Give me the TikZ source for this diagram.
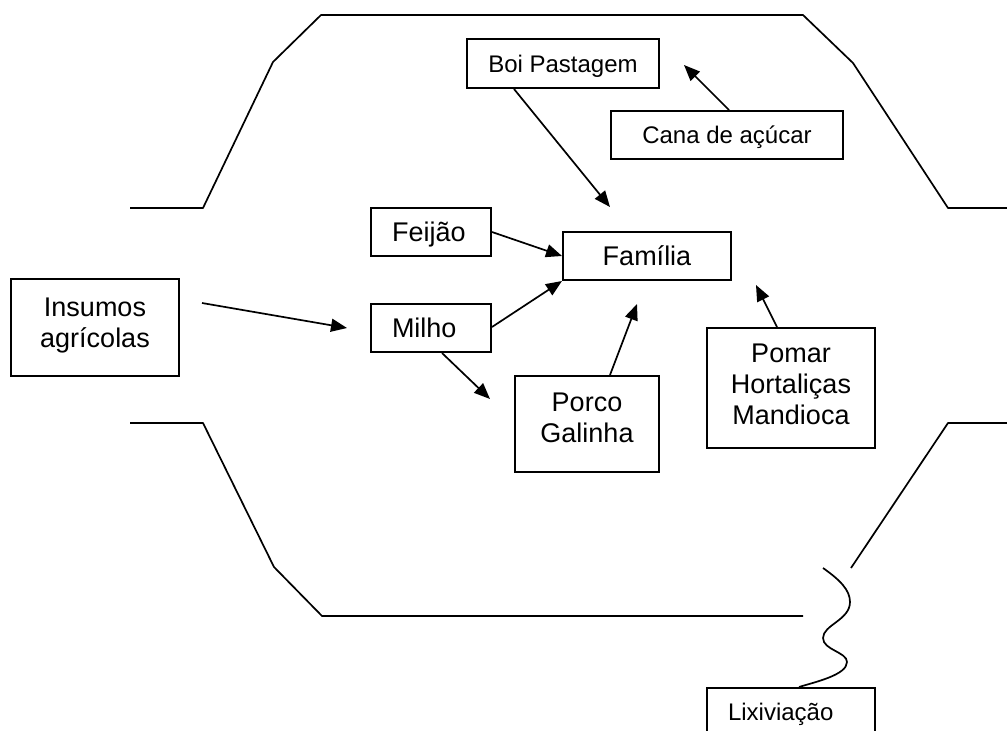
\documentclass[tikz,border=0pt]{standalone}
\usepackage{fontspec}
\setmainfont{Liberation Sans}
\usetikzlibrary{arrows.meta}
\begin{document}
\begin{tikzpicture}[x=1pt,y=-1pt,
  box/.style={draw,line width=2pt,inner sep=0pt,align=center},
  big/.style={font=\fontsize{27}{31}\selectfont},
  small/.style={font=\fontsize{24}{28}\selectfont},
  one/.style={text height=17.5pt,text depth=-4pt},
  oneb/.style={text height=19.3pt,text depth=-4pt},
  conn/.style={line width=1.7pt,-{Triangle[length=16pt,width=13pt]}},
  bound/.style={line width=1.7pt,line join=round}]
\useasboundingbox (0,0) rectangle (1007,731);
% boundaries
\draw[bound] (130,208) -- (203,208) -- (273,62) -- (321,15) -- (803,15) -- (853,63) -- (948,208) -- (1007,208);
\draw[bound] (130,423) -- (203,423) -- (274,567) -- (322,616) -- (803,616);
\draw[bound] (851,568) -- (948,423) -- (1007,423);
% nodes
\node[box,small,one,minimum width=192pt,minimum height=49pt] (boi) at (563,63.5) {Boi Pastagem};
\node[box,small,one,minimum width=232pt,minimum height=48pt,text depth=-2pt] (cana) at (727,135) {Cana de açúcar};
\node[box,big,oneb,text width=78pt,inner xsep=21pt,align=left,minimum height=48pt] (feijao) at (431,232) {Feijão};
\node[box,big,oneb,text width=78pt,inner xsep=21pt,align=left,minimum height=48pt] (milho) at (431,328) {Milho};
\node[box,big,oneb,minimum width=168pt,minimum height=48pt,text depth=-5pt] (familia) at (647,256) {Família};
\node[box,big,text height=51.3pt,text depth=12pt,minimum width=168pt,minimum height=97pt] (ins) at (95,327.5) {Insumos\\agrícolas};
\node[box,big,text height=50.3pt,text depth=13pt,minimum width=144pt,minimum height=96pt] (porco) at (587,424) {Porco\\Galinha};
\node[box,big,text height=80.3pt,text depth=8pt,minimum width=168pt,minimum height=120pt] (pomar) at (791,388) {Pomar\\Hortaliças\\Mandioca};
\node[box,small,text height=17.2pt,text depth=0pt,text width=126pt,inner xsep=21pt,align=left,minimum height=48pt] (lix) at (791,712) {Lixiviação};
% free ends
\coordinate (insStart) at (202,303);
\coordinate (insTip) at (347,328);
\coordinate (boiTip) at (610,207);
\coordinate (canaTip) at (684,65);
\coordinate (milhoTip) at (490,399);
\coordinate (porcoTip) at (637,304);
\coordinate (pomarTip) at (756,285);
\coordinate (waveStart) at (823,568);
% connectors
\draw[conn] (insStart) -- (insTip);
\draw[conn] ([xshift=48pt]boi.south west) -- (boiTip);
\draw[conn] ([xshift=119pt]cana.north west) -- (canaTip);
\draw[conn] (feijao.east) -- (familia.west);
\draw[conn] ([yshift=1pt]milho.east) -- (familia.south west);
\draw[conn] ([xshift=72pt]milho.south west) -- (milhoTip);
\draw[conn] ([xshift=96pt]porco.north west) -- (porcoTip);
\draw[conn] ([xshift=71pt]pomar.north west) -- (pomarTip);
\draw[line width=1.7pt] (waveStart) .. controls (840,580) and (850,590) .. (850,602)
  .. controls (850,620) and (823,625) .. (823,638)
  .. controls (823,650) and (847,652) .. (847,662)
  .. controls (847,675) and (815,682) .. ([xshift=93pt]lix.north west);
\end{tikzpicture}
\end{document}
